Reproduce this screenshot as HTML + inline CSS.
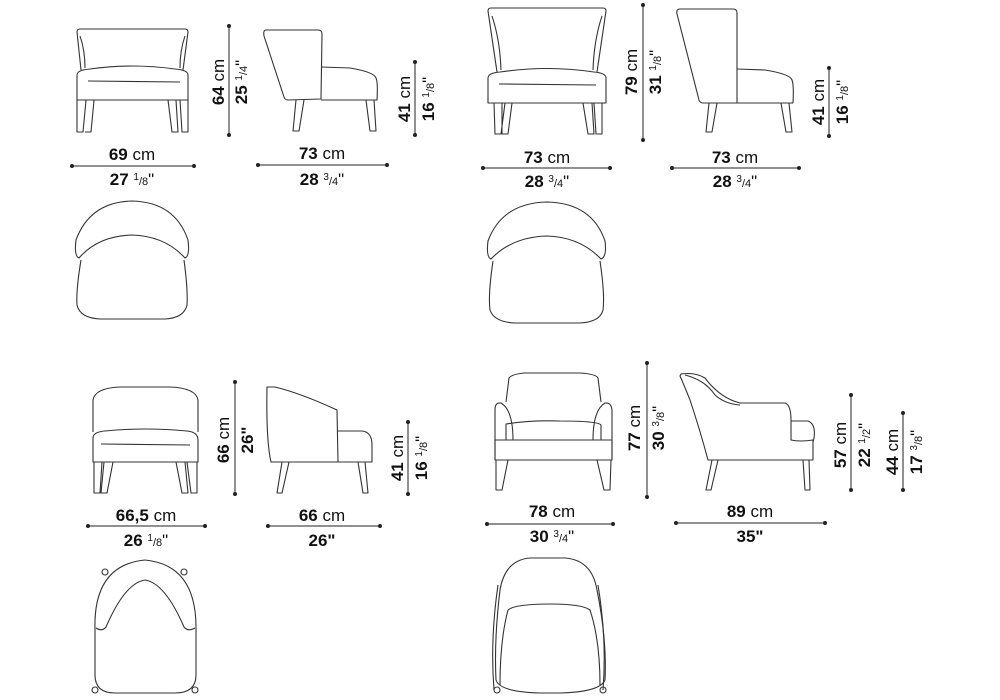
<!DOCTYPE html>
<html><head><meta charset="utf-8"><style>
html,body{margin:0;padding:0;background:#fff;}
svg{display:block;}
.l{fill:none;stroke:#333;stroke-width:1.1;stroke-linejoin:round;}
.d{fill:none;stroke:#222;stroke-width:1;}
text{font-family:"Liberation Sans",sans-serif;fill:#111;}
.b{font-weight:bold;font-size:17px;}
.r{font-size:17px;font-weight:normal;}
.f{font-size:11px;font-weight:normal;}
.n{font-size:10px;font-weight:normal;}
</style></head><body>
<svg width="1000" height="700" viewBox="0 0 1000 700" xmlns="http://www.w3.org/2000/svg">
<defs>
<g id="dot"><circle r="2" fill="#222"/></g>
</defs>

<!-- ===== CHAIR 1 FRONT ===== -->
<path class="l" d="M77,32 Q77,29 80,29 L185,29 Q188,29 188,32 L183,70 M77,32 L81,70"/>
<path class="l" d="M80,36 Q85,50 85,68 M185,36 Q180,50 180,68"/>
<path class="l" d="M77,75 Q77,70 90,69 Q132,63 175,69 Q188,70 188,75 L188,100 L77,100 Z"/>
<path class="l" d="M88,81 L180,82"/>
<path class="l" d="M77,100 L77,132 L83,132 L86,100 M85,132 L91,132 L94,100 M168,100 L172,132 L178,132 L176,100 M180,100 L182,132 L188,132 L188,100"/>
<path class="d" d="M72,166 L194,166"/><use href="#dot" x="72" y="166"/><use href="#dot" x="194" y="166"/>
<text x="132" y="160" text-anchor="middle"><tspan class="b">69</tspan><tspan class="r"> cm</tspan></text>
<text x="132" y="185" text-anchor="middle"><tspan class="b">27 </tspan><tspan class="n" dy="-5">1</tspan><tspan class="f" dy="5">/8</tspan><tspan class="r">"</tspan></text>
<path class="d" d="M229,26 L229,135"/><use href="#dot" x="229" y="26"/><use href="#dot" x="229" y="135"/>
<text transform="translate(224,82) rotate(-90)" text-anchor="middle"><tspan class="b">64</tspan><tspan class="r"> cm</tspan></text>
<text transform="translate(247,82) rotate(-90)" text-anchor="middle"><tspan class="b">25 </tspan><tspan class="n" dy="-5">1</tspan><tspan class="f" dy="5">/4</tspan><tspan class="r">"</tspan></text>

<!-- ===== CHAIR 1 SIDE ===== -->
<path class="l" d="M266,30 L318,30 Q322,30 322,34 L321,99 L288,100 Q285,100 284,97 L264,36 Q263,30 266,30 Z"/>
<path class="l" d="M321,67 L350,68 Q374,72 376,78 Q378,82 377,100 L321,100"/>
<path class="l" d="M296,100 L293,131 L299,131 L304,100 M366,100 L370,131 L376,131 L374,100"/>
<path class="d" d="M258,165 L387,165"/><use href="#dot" x="258" y="165"/><use href="#dot" x="387" y="165"/>
<text x="322" y="159" text-anchor="middle"><tspan class="b">73</tspan><tspan class="r"> cm</tspan></text>
<text x="322" y="185" text-anchor="middle"><tspan class="b">28 </tspan><tspan class="n" dy="-5">3</tspan><tspan class="f" dy="5">/4</tspan><tspan class="r">"</tspan></text>
<path class="d" d="M415,62 L415,135"/><use href="#dot" x="415" y="62"/><use href="#dot" x="415" y="135"/>
<text transform="translate(410,99) rotate(-90)" text-anchor="middle"><tspan class="b">41</tspan><tspan class="r"> cm</tspan></text>
<text transform="translate(434,99) rotate(-90)" text-anchor="middle"><tspan class="b">16 </tspan><tspan class="n" dy="-5">1</tspan><tspan class="f" dy="5">/8</tspan><tspan class="r">"</tspan></text>

<!-- ===== CHAIR 1 TOP ===== -->
<path class="l" d="M79,258 Q74,256 76,240 Q90,202 132,201 Q175,202 188,240 Q190,256 185,258 Q165,236 132,235 Q98,236 79,258 Z"/>
<path class="l" d="M81,260 Q76,290 77,305 Q80,318 100,319 L165,319 Q184,318 187,305 Q188,290 184,260"/>

<!-- ===== CHAIR 2 FRONT ===== -->
<path class="l" d="M488,11 Q488,8 491,8 L603,8 Q606,8 606,11 L597,72 M488,11 L497,72"/>
<path class="l" d="M492,16 Q500,40 501,70 M602,16 Q594,40 593,70"/>
<path class="l" d="M488,78 Q488,73 500,72 Q547,65 594,72 Q606,73 606,78 L606,103 L488,103 Z"/>
<path class="l" d="M499,84 L596,85"/>
<path class="l" d="M494,103 L495,134 L501,134 L505,103 M502,103 L502,134 L508,134 L512,103 M583,103 L588,134 L594,134 L592,103 M594,103 L596,134 L602,134 L602,103"/>
<path class="d" d="M483,168 L610,168"/><use href="#dot" x="483" y="168"/><use href="#dot" x="610" y="168"/>
<text x="547" y="163" text-anchor="middle"><tspan class="b">73</tspan><tspan class="r"> cm</tspan></text>
<text x="547" y="187" text-anchor="middle"><tspan class="b">28 </tspan><tspan class="n" dy="-5">3</tspan><tspan class="f" dy="5">/4</tspan><tspan class="r">"</tspan></text>
<path class="d" d="M643,5 L643,140"/><use href="#dot" x="643" y="5"/><use href="#dot" x="643" y="140"/>
<text transform="translate(637,72) rotate(-90)" text-anchor="middle"><tspan class="b">79</tspan><tspan class="r"> cm</tspan></text>
<text transform="translate(661,72) rotate(-90)" text-anchor="middle"><tspan class="b">31 </tspan><tspan class="n" dy="-5">1</tspan><tspan class="f" dy="5">/8</tspan><tspan class="r">"</tspan></text>

<!-- ===== CHAIR 2 SIDE ===== -->
<path class="l" d="M680,9 L733,9 Q737,9 737,13 L737,103 L703,103 Q700,103 699,100 L677,14 Q676,9 680,9 Z"/>
<path class="l" d="M737,69 L765,70 Q790,74 792,80 Q794,85 793,103 L737,103"/>
<path class="l" d="M709,103 L706,132 L712,132 L717,103 M781,103 L786,132 L792,132 L789,103"/>
<path class="d" d="M672,168 L799,168"/><use href="#dot" x="672" y="168"/><use href="#dot" x="799" y="168"/>
<text x="735" y="163" text-anchor="middle"><tspan class="b">73</tspan><tspan class="r"> cm</tspan></text>
<text x="735" y="187" text-anchor="middle"><tspan class="b">28 </tspan><tspan class="n" dy="-5">3</tspan><tspan class="f" dy="5">/4</tspan><tspan class="r">"</tspan></text>
<path class="d" d="M829,68 L829,136"/><use href="#dot" x="829" y="68"/><use href="#dot" x="829" y="136"/>
<text transform="translate(824,102) rotate(-90)" text-anchor="middle"><tspan class="b">41</tspan><tspan class="r"> cm</tspan></text>
<text transform="translate(848,102) rotate(-90)" text-anchor="middle"><tspan class="b">16 </tspan><tspan class="n" dy="-5">1</tspan><tspan class="f" dy="5">/8</tspan><tspan class="r">"</tspan></text>

<!-- ===== CHAIR 2 TOP ===== -->
<path class="l" d="M491,259 Q486,257 488,241 Q502,203 547,202 Q592,203 605,241 Q607,257 601,259 Q580,237 547,236 Q512,237 491,259 Z"/>
<path class="l" d="M493,261 Q488,295 490,310 Q494,322 515,323 L580,323 Q600,322 603,310 Q605,295 600,261"/>

<!-- ===== CHAIR 3 FRONT ===== -->
<path class="l" d="M93,432 L93,400 Q95,388 120,387 L170,387 Q196,388 198,400 L198,432"/>
<path class="l" d="M93,438 Q93,432 105,431 Q145,427 187,431 Q198,432 198,440 L198,462 L93,462 Z"/>
<path class="l" d="M101,444 L190,445"/>
<path class="l" d="M94,462 L94,493 L100,493 L102,462 M104,462 L101,493 L107,493 L113,462 M176,462 L182,493 L188,493 L185,462 M187,462 L191,493 L197,493 L197,462"/>
<path class="d" d="M88,526 L205,526"/><use href="#dot" x="88" y="526"/><use href="#dot" x="205" y="526"/>
<text x="146" y="521" text-anchor="middle"><tspan class="b">66,5</tspan><tspan class="r"> cm</tspan></text>
<text x="146" y="546" text-anchor="middle"><tspan class="b">26 </tspan><tspan class="n" dy="-5">1</tspan><tspan class="f" dy="5">/8</tspan><tspan class="r">"</tspan></text>
<path class="d" d="M235,382 L235,494"/><use href="#dot" x="235" y="382"/><use href="#dot" x="235" y="494"/>
<text transform="translate(229,440) rotate(-90)" text-anchor="middle"><tspan class="b">66</tspan><tspan class="r"> cm</tspan></text>
<text transform="translate(253,440) rotate(-90)" text-anchor="middle"><tspan class="b">26"</tspan></text>

<!-- ===== CHAIR 3 SIDE ===== -->
<path class="l" d="M267,387 Q266,440 271,462 L338,462 L337,410 Q300,393 275,387 Z"/>
<path class="l" d="M337,431 L362,431 Q372,432 372,445 L372,462 L338,462"/>
<path class="l" d="M282,462 L277,493 L282,493 L289,462 M358,462 L363,493 L368,493 L365,462"/>
<path class="d" d="M268,526 L380,526"/><use href="#dot" x="268" y="526"/><use href="#dot" x="380" y="526"/>
<text x="322" y="521" text-anchor="middle"><tspan class="b">66</tspan><tspan class="r"> cm</tspan></text>
<text x="322" y="546" text-anchor="middle"><tspan class="b">26"</tspan></text>
<path class="d" d="M408,422 L408,494"/><use href="#dot" x="408" y="422"/><use href="#dot" x="408" y="494"/>
<text transform="translate(403,458) rotate(-90)" text-anchor="middle"><tspan class="b">41</tspan><tspan class="r"> cm</tspan></text>
<text transform="translate(427,458) rotate(-90)" text-anchor="middle"><tspan class="b">16 </tspan><tspan class="n" dy="-5">1</tspan><tspan class="f" dy="5">/8</tspan><tspan class="r">"</tspan></text>

<!-- ===== CHAIR 3 TOP ===== -->
<path class="l" d="M95,630 Q93,565 145,560 Q197,565 196,630 L196,675 Q196,693 175,693 L115,693 Q95,693 95,675 Z"/>
<path class="l" d="M96,628 Q102,632 106,627 Q125,583 145,580 Q165,583 184,627 Q188,632 195,628"/>
<circle class="l" cx="105" cy="572" r="3"/><circle class="l" cx="184" cy="572" r="3"/>
<circle class="l" cx="95" cy="690" r="3"/><circle class="l" cx="195" cy="690" r="3"/>

<!-- ===== CHAIR 4 FRONT ===== -->
<path class="l" d="M506,402 L509,378 Q512,374 525,373 L580,373 Q596,374 598,378 L601,402"/>
<path class="l" d="M513,440 Q513,410 501,403 Q495,402 495,410 L495,460 M593,440 Q593,410 605,403 Q611,402 612,410 L612,460"/>
<path class="l" d="M506,424 Q530,420 560,421 Q598,421 601,425 L601,440 L506,440 Z"/>
<path class="l" d="M495,440 L612,440 L612,460 L495,460 Z"/>
<path class="l" d="M496,460 L496,490 L502,490 L508,460 M597,460 L604,490 L610,490 L611,460"/>
<path class="d" d="M487,524 L613,524"/><use href="#dot" x="487" y="524"/><use href="#dot" x="613" y="524"/>
<text x="552" y="517" text-anchor="middle"><tspan class="b">78</tspan><tspan class="r"> cm</tspan></text>
<text x="552" y="542" text-anchor="middle"><tspan class="b">30 </tspan><tspan class="n" dy="-5">3</tspan><tspan class="f" dy="5">/4</tspan><tspan class="r">"</tspan></text>
<path class="d" d="M647,363 L647,497"/><use href="#dot" x="647" y="363"/><use href="#dot" x="647" y="497"/>
<text transform="translate(640,428) rotate(-90)" text-anchor="middle"><tspan class="b">77</tspan><tspan class="r"> cm</tspan></text>
<text transform="translate(664,428) rotate(-90)" text-anchor="middle"><tspan class="b">30 </tspan><tspan class="n" dy="-5">3</tspan><tspan class="f" dy="5">/8</tspan><tspan class="r">"</tspan></text>

<!-- ===== CHAIR 4 SIDE ===== -->
<path class="l" d="M681,374 Q695,372 705,378 Q720,398 740,403 L785,403 Q791,405 791,420 L791,440 Q800,442 813,440 L813,460 L708,460 Q700,430 690,400 Q684,385 680,376 Z"/>
<path class="l" d="M685,375 Q705,380 715,395 Q725,404 740,405"/>
<path class="l" d="M791,421 L808,421 Q816,424 814,438 L813,442"/>
<path class="l" d="M712,460 L706,490 L711,490 L718,460 M803,460 L805,490 L810,490 L809,460"/>
<path class="d" d="M676,523 L825,523"/><use href="#dot" x="676" y="523"/><use href="#dot" x="825" y="523"/>
<text x="750" y="517" text-anchor="middle"><tspan class="b">89</tspan><tspan class="r"> cm</tspan></text>
<text x="750" y="542" text-anchor="middle"><tspan class="b">35"</tspan></text>
<path class="d" d="M851,395 L851,490"/><use href="#dot" x="851" y="395"/><use href="#dot" x="851" y="490"/>
<text transform="translate(846,445) rotate(-90)" text-anchor="middle"><tspan class="b">57</tspan><tspan class="r"> cm</tspan></text>
<text transform="translate(870,445) rotate(-90)" text-anchor="middle"><tspan class="b">22 </tspan><tspan class="n" dy="-5">1</tspan><tspan class="f" dy="5">/2</tspan><tspan class="r">"</tspan></text>
<path class="d" d="M903,413 L903,490"/><use href="#dot" x="903" y="413"/><use href="#dot" x="903" y="490"/>
<text transform="translate(898,452) rotate(-90)" text-anchor="middle"><tspan class="b">44</tspan><tspan class="r"> cm</tspan></text>
<text transform="translate(922,452) rotate(-90)" text-anchor="middle"><tspan class="b">17 </tspan><tspan class="n" dy="-5">3</tspan><tspan class="f" dy="5">/8</tspan><tspan class="r">"</tspan></text>

<!-- ===== CHAIR 4 TOP ===== -->
<path class="l" d="M500,590 Q505,560 530,558 L565,558 Q592,560 597,590 Q607,640 605,680 Q600,692 560,693 L540,693 Q500,692 496,680 Q494,640 500,590 Z"/>
<path class="l" d="M508,610 Q515,604 550,604 Q582,604 590,610 Q600,640 600,685 M508,610 Q500,640 500,685"/>
<path class="l" d="M498,585 Q490,640 494,690 M598,585 Q607,640 603,690"/>
<circle class="l" cx="497" cy="690" r="3"/><circle class="l" cx="603" cy="690" r="3"/>
</svg>
</body></html>
